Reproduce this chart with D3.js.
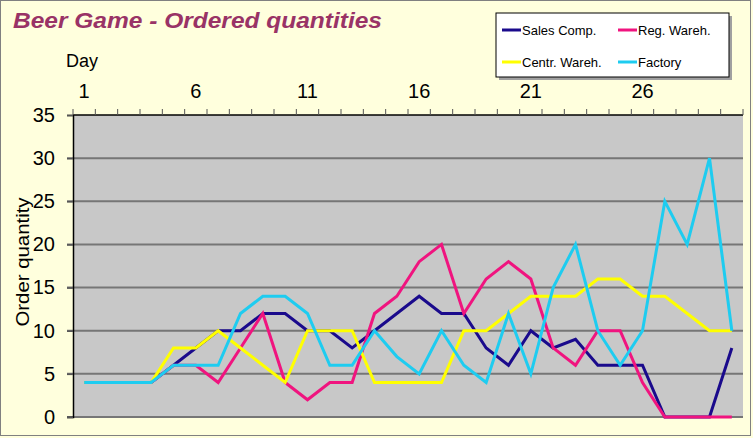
<!DOCTYPE html>
<html><head><meta charset="utf-8">
<script src="https://cdn.jsdelivr.net/npm/d3@7"></script>
<style>body{margin:0;background:#FFFFDD;}svg{display:block;font-family:"Liberation Sans",Arial,sans-serif;}</style>
</head><body>
<script>
const days = d3.range(1, 31);
const dayTickLabels = [1, 6, 11, 16, 21, 26];
const yTicks = [0, 5, 10, 15, 20, 25, 30, 35];
const seriesNames = ["Sales Comp.", "Reg. Wareh.", "Centr. Wareh.", "Factory"];
const seriesColors = ["#1A0A8C", "#F0147F", "#FFFF00", "#1ECCF0"];
const salesComp  = [4,4,4,4,6,8,10,10,12,12,10,10,8,10,12,14,12,12,8,6,10,8,9,6,6,6,0,0,0,8];
const regWareh   = [4,4,4,4,6,6,4,8,12,4,2,4,4,12,14,18,20,12,16,18,16,8,6,10,10,4,0,0,0,0];
const centrWareh = [4,4,4,4,8,8,10,8,6,4,10,10,10,4,4,4,4,10,10,12,14,14,14,16,16,14,14,12,10,10];
const factory    = [4,4,4,4,6,6,6,12,14,14,12,6,6,10,7,5,10,6,4,12,5,15,20,10,6,10,25,20,30,10];
const seriesValues = [salesComp, regWareh, centrWareh, factory];

(function () {
const W = 753, H = 438;
const svg = d3.select("body").append("svg").attr("width", W).attr("height", H);
svg.append("rect").attr("x", 0.5).attr("y", 0.5).attr("width", W - 3).attr("height", H - 3)
  .attr("fill", "#FFFFDD").attr("stroke", "#808080").attr("stroke-width", 1);

const pL = 73, pR = 743, pT = 115, pB = 417;
const x = d3.scaleBand().domain(days).range([pL, pR]);
const y = d3.scaleLinear().domain([0, 35]).range([pB, pT]);

svg.append("rect").attr("x", pL).attr("y", pT).attr("width", pR - pL).attr("height", pB - pT)
  .attr("fill", "#C8C8C8");

// gridlines
svg.append("g").selectAll("line").data(yTicks.filter(d => d < 35)).join("line")
  .attr("x1", pL - 6).attr("x2", pR).attr("y1", d => y(d)).attr("y2", d => y(d))
  .attr("stroke", "#767676").attr("stroke-width", 2);

// y axis
const yAxis = d3.axisLeft(y).tickValues(yTicks).tickSize(6).tickPadding(12);
const gy = svg.append("g").attr("transform", `translate(${pL},0)`).call(yAxis);
gy.select(".domain").attr("stroke", "#000").attr("stroke-width", 1.5);
gy.selectAll(".tick line").attr("stroke", "#555").attr("stroke-width", 1.5);
gy.selectAll(".tick text").attr("font-size", 20).attr("fill", "#000")
  .attr("font-family", '"Liberation Sans",Arial,sans-serif');

// x axis at top
svg.append("line").attr("x1", pL).attr("x2", pR).attr("y1", pT).attr("y2", pT)
  .attr("stroke", "#000").attr("stroke-width", 1.5);
const bounds = d3.range(0, days.length + 1).map(i => pL + i * x.step());
svg.append("g").selectAll("line").data(bounds).join("line")
  .attr("x1", d => d).attr("x2", d => d).attr("y1", pT - 6).attr("y2", pT)
  .attr("stroke", "#555").attr("stroke-width", 1);
svg.append("g").selectAll("text").data(dayTickLabels).join("text")
  .attr("x", d => x(d) + x.bandwidth() / 2).attr("y", 98).attr("text-anchor", "middle")
  .attr("font-size", 20).attr("fill", "#000").text(d => d);
svg.append("text").attr("x", 66).attr("y", 67).attr("font-size", 18).attr("fill", "#000").text("Day");

// y title
svg.append("text").attr("transform", "translate(29,262) rotate(-90)").attr("text-anchor", "middle")
  .attr("font-size", 18).attr("fill", "#000")
  .attr("textLength", 129).attr("lengthAdjust", "spacingAndGlyphs").text("Order quantity");

// lines
const line = d3.line().x((d, i) => x(days[i]) + x.bandwidth() / 2).y(d => y(d));
svg.append("g").selectAll("path").data(seriesValues).join("path")
  .attr("d", d => line(d)).attr("fill", "none")
  .attr("stroke", (d, i) => seriesColors[i]).attr("stroke-width", 3).attr("stroke-linejoin", "miter");

// title
svg.append("text").attr("x", 13).attr("y", 28).attr("font-size", 22.5).attr("font-weight", "bold")
  .attr("font-style", "italic").attr("fill", "#993366")
  .attr("textLength", 369).attr("lengthAdjust", "spacingAndGlyphs").text("Beer Game - Ordered quantities");

// legend
svg.append("rect").attr("x", 499).attr("y", 16).attr("width", 233).attr("height", 64).attr("fill", "#A0A0A0");
svg.append("rect").attr("x", 496).attr("y", 13).attr("width", 233).attr("height", 64)
  .attr("fill", "#fff").attr("stroke", "#000").attr("stroke-width", 1);
const legPos = [[502, 30], [618, 30], [502, 62], [618, 62]];
const lg = svg.append("g").selectAll("g").data(seriesNames).join("g")
  .attr("transform", (d, i) => `translate(${legPos[i][0]},${legPos[i][1]})`);
lg.append("line").attr("x1", 0).attr("x2", 19).attr("y1", 0).attr("y2", 0)
  .attr("stroke", (d, i) => seriesColors[i]).attr("stroke-width", 3);
lg.append("text").attr("x", 20).attr("y", 5).attr("font-size", 13).attr("fill", "#000").text(d => d);
})();
</script>
</body></html>
